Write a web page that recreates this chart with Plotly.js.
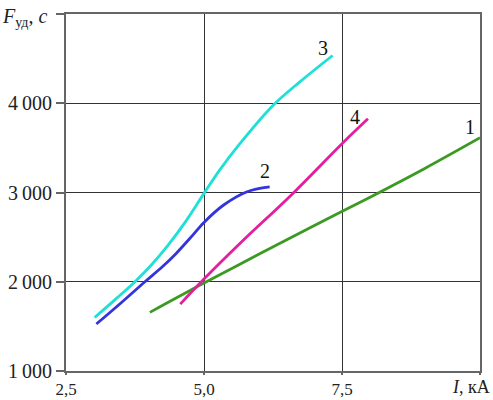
<!DOCTYPE html>
<html>
<head>
<meta charset="utf-8">
<script src="https://cdn.plot.ly/plotly-3.0.1.min.js"></script>
<style>html,body{margin:0;padding:0;background:#fff}#chart{width:493px;height:400px}</style>
</head>
<body>
<div id="chart"></div>
<script>
// Series 1 (green)
const x1 = [4.02, 5.0, 6.0, 7.0, 8.0, 9.0, 10.0];
const y1 = [1657, 1985, 2310, 2630, 2945, 3270, 3614];
// Series 2 (blue)
const x2 = [3.05, 3.5, 3.93, 4.25, 4.5, 4.75, 5.0, 5.35, 5.77, 6.19];
const y2 = [1526, 1765, 2000, 2170, 2320, 2490, 2665, 2857, 3006, 3062];
// Series 3 (cyan)
const x3 = [3.02, 3.4, 3.75, 4.05, 4.35, 4.65, 5.0, 5.28, 5.65, 6.25, 6.73, 7.33];
const y3 = [1600, 1805, 2000, 2190, 2410, 2660, 2990, 3248, 3547, 3975, 4236, 4535];
// Series 4 (magenta)
const x4 = [4.57, 5.0, 5.65, 6.61, 7.5, 7.97];
const y4 = [1749, 2030, 2428, 2990, 3547, 3826];

const seriesNames = ["1", "2", "3", "4"];
const xTickVals = [2.5, 5.0, 7.5];
const xTickText = ["2,5", "5,0", "7,5"];
const yTickVals = [1000, 2000, 3000, 4000];
const yTickText = ["1\u2009000", "2\u2009000", "3\u2009000", "4\u2009000"];

const colors = ["#3c9a22", "#3434dc", "#1ee0d6", "#e0209e"];
const SERIF = "Liberation Serif";
function fnt(size, color) { return {family: SERIF, size: size, color: color}; }

function tr(x, y, c, name) {
  return {x: x, y: y, mode: "lines", name: name, line: {color: c, width: 2.8, shape: "spline", smoothing: 1}, hoverinfo: "skip"};
}
const data = [tr(x1, y1, colors[0], seriesNames[0]), tr(x2, y2, colors[1], seriesNames[1]),
              tr(x3, y3, colors[2], seriesNames[2]), tr(x4, y4, colors[3], seriesNames[3])];

const layout = {
  width: 493, height: 400,
  margin: {l: 66, r: 13, t: 14, b: 29},
  showlegend: false,
  font: fnt(18, "#222"),
  paper_bgcolor: "#fff", plot_bgcolor: "#fff",
  xaxis: {range: [2.5, 10], tickvals: xTickVals, ticktext: xTickText,
          showgrid: true, gridcolor: "#333", gridwidth: 1, zeroline: false,
          showline: true, linecolor: "#666", linewidth: 2, mirror: true,
          ticks: "outside", ticklen: 2, tickcolor: "#666", tickwidth: 2,
          minor: {tickvals: [10], ticks: "outside", ticklen: 2, tickcolor: "#666", tickwidth: 2, showgrid: false},
          tickfont: fnt(17, "#222"), fixedrange: true},
  yaxis: {range: [1000, 5000], tickvals: yTickVals, ticktext: yTickText,
          showgrid: true, gridcolor: "#333", gridwidth: 1, zeroline: false,
          showline: true, linecolor: "#666", linewidth: 2, mirror: true,
          ticks: "outside", ticklen: 8, tickcolor: "#666", tickwidth: 2,
          minor: {tickvals: [5000], ticks: "outside", ticklen: 8, tickcolor: "#666", tickwidth: 2, showgrid: false},
          tickfont: fnt(20, "#222"), fixedrange: true},
  annotations: [
    {x: 9.82, y: 3730, xref: "x", yref: "y", text: seriesNames[0], showarrow: false, font: fnt(20, "#111")},
    {x: 6.1, y: 3240, xref: "x", yref: "y", text: seriesNames[1], showarrow: false, font: fnt(20, "#111")},
    {x: 7.15, y: 4620, xref: "x", yref: "y", text: seriesNames[2], showarrow: false, font: fnt(20, "#111")},
    {x: 7.73, y: 3850, xref: "x", yref: "y", text: seriesNames[3], showarrow: false, font: fnt(20, "#111")},
    {x: 1.03, y: -0.01, xref: "paper", yref: "paper", xanchor: "right", yanchor: "top", text: "<i>I</i>, кА",
     showarrow: false, font: fnt(18, "#222")},
    {x: -0.16, y: 1.03, xref: "paper", yref: "paper", xanchor: "left", yanchor: "top",
     text: "<i>F</i><sub>уд</sub>, <i>c</i>", showarrow: false, font: fnt(20, "#222")}
  ]
};
Plotly.newPlot("chart", data, layout, {displayModeBar: false, staticPlot: true});
</script>
</body>
</html>
